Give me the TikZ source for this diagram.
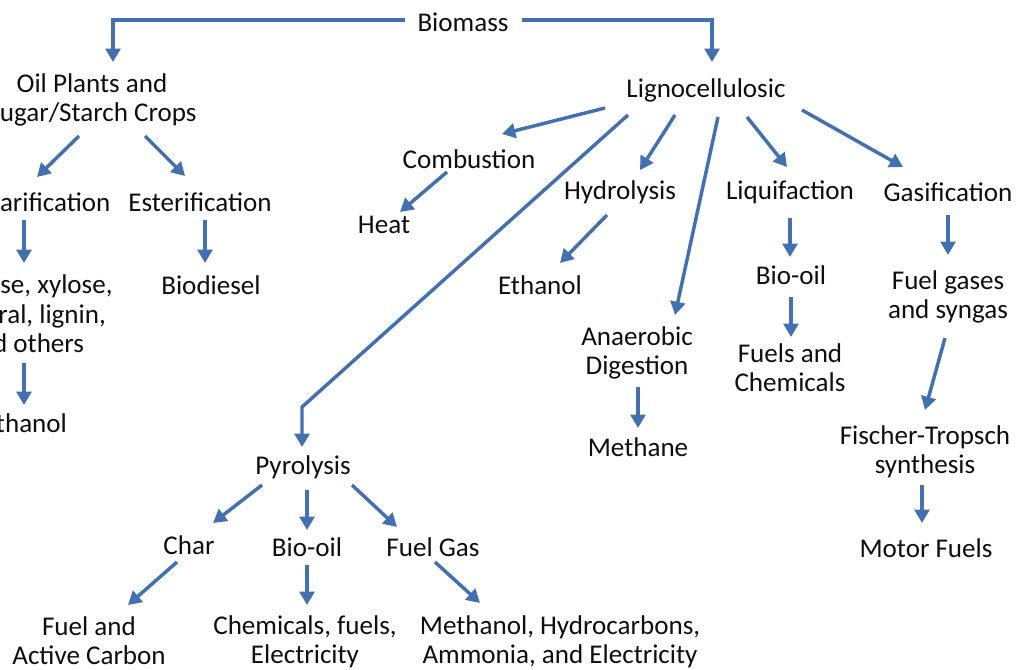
\documentclass[tikz,border=0pt]{standalone}
\usepackage{fontspec}
\setmainfont{Carlito}
\usetikzlibrary{arrows.meta}
\definecolor{arrowblue}{RGB}{66,112,176}
\definecolor{txt}{RGB}{15,15,15}
\begin{document}
\begin{tikzpicture}[x=0.75pt,y=-0.75pt,
  lbl/.style={font=\fontsize{20.3}{22}\selectfont, text=txt, align=center, inner sep=0pt},
  arr/.style={draw=arrowblue, line width=2.6pt, -{Triangle[length=10pt,width=11pt]}}]
\useasboundingbox (0,0) rectangle (1026,669);
\fill[white] (0,0) rectangle (1026,669);
\clip (0,0) rectangle (1026,669);

\node[lbl] (bio) at (463,22) {Biomass};
\node[lbl] (oil) at (92,100) {Oil Plants and\\Sugar/Starch Crops};
\node[lbl] (sacc) at (24,202) {Saccharification};
\node[lbl] (ester) at (200,202) {Esterification};
\node[lbl] (gluc) at (25,314) {Glucose, xylose,\\furfural, lignin,\\and others};
\node[lbl] (biod) at (211,285) {Biodiesel};
\node[lbl] (eth1) at (25,423) {Ethanol};
\node[lbl] (ligno) at (706,90) {Lignocellulosic};
\node[lbl] (comb) at (469,159) {Combustion};
\node[lbl] (heat) at (384,225) {Heat};
\node[lbl] (hydro) at (620,192) {Hydrolysis};
\node[lbl] (eth2) at (540,285) {Ethanol};
\node[lbl] (liquif) at (790,192) {Liquifaction};
\node[lbl] (gasif) at (948,192) {Gasification};
\node[lbl] (bo2) at (791,275) {Bio-oil};
\node[lbl] (fuelchem) at (790,368) {Fuels and\\Chemicals};
\node[lbl] (fuelgas) at (948,297) {Fuel gases\\and syngas};
\node[lbl] (anaer) at (637,353) {Anaerobic\\Digestion};
\node[lbl] (methane) at (638,447) {Methane};
\node[lbl] (fischer) at (925,452) {Fischer-Tropsch\\synthesis};
\node[lbl] (motor) at (926,548) {Motor Fuels};
\node[lbl] (pyro) at (303,467) {Pyrolysis};
\node[lbl] (char) at (189,545) {Char};
\node[lbl] (bo3) at (307,547) {Bio-oil};
\node[lbl] (fgas) at (433,547) {Fuel Gas};
\node[lbl] (fac) at (89,641) {Fuel and\\Active Carbon};
\node[lbl] (chem) at (305,642) {Chemicals, fuels,\\Electricity};
\node[lbl] (meth) at (560,642) {Methanol, Hydrocarbons,\\Ammonia, and Electricity};

\draw[arr] ([shift={(-58,-2)}]bio.center) -| ([shift={(21,-38)}]oil.center);
\draw[arr] ([shift={(59,-2)}]bio.center) -| ([shift={(6,-28)}]ligno.center);
\draw[arr] ([shift={(-13,36)}]oil.center) -- ([shift={(13,-25)}]sacc.center);
\draw[arr] ([shift={(53,36)}]oil.center) -- ([shift={(-15,-26)}]ester.center);
\draw[arr] ([shift={(0,18)}]sacc.center) -- ([shift={(-1,-51)}]gluc.center);
\draw[arr] ([shift={(5,18)}]ester.center) -- ([shift={(-6,-22)}]biod.center);
\draw[arr] ([shift={(-1,49)}]gluc.center) -- ([shift={(-1,-18)}]eth1.center);
\draw[arr] ([shift={(-101,18)}]ligno.center) -- ([shift={(33,-25)}]comb.center);
\draw[arr] ([shift={(-22,13)}]comb.center) -- ([shift={(16,-13)}]heat.center);
\draw[arr] ([shift={(-78,25)}]ligno.center) -- ([shift={(-1,-60)}]pyro.center) -- ([shift={(-1,-20)}]pyro.center);
\draw[arr] ([shift={(-31,25)}]ligno.center) -- ([shift={(20,-22)}]hydro.center);
\draw[arr] ([shift={(12,27)}]ligno.center) -- ([shift={(38,-38)}]anaer.center);
\draw[arr] ([shift={(41,27)}]ligno.center) -- ([shift={(-3,-25)}]liquif.center);
\draw[arr] ([shift={(96,20)}]ligno.center) -- ([shift={(-45,-25)}]gasif.center);
\draw[arr] ([shift={(-13,23)}]hydro.center) -- ([shift={(20,-22)}]eth2.center);
\draw[arr] ([shift={(0,26)}]liquif.center) -- ([shift={(-1,-18)}]bo2.center);
\draw[arr] ([shift={(0,22)}]bo2.center) -- ([shift={(1,-31)}]fuelchem.center);
\draw[arr] ([shift={(0,23)}]gasif.center) -- ([shift={(0,-42)}]fuelgas.center);
\draw[arr] ([shift={(-3,41)}]fuelgas.center) -- ([shift={(0,-42)}]fischer.center);
\draw[arr] ([shift={(-3,33)}]fischer.center) -- ([shift={(-4,-25)}]motor.center);
\draw[arr] ([shift={(1,34)}]anaer.center) -- ([shift={(0,-19)}]methane.center);
\draw[arr] ([shift={(-41,18)}]pyro.center) -- ([shift={(24,-22)}]char.center);
\draw[arr] ([shift={(4,23)}]pyro.center) -- ([shift={(0,-17)}]bo3.center);
\draw[arr] ([shift={(49,18)}]pyro.center) -- ([shift={(-36,-20)}]fgas.center);
\draw[arr] ([shift={(-12,17)}]char.center) -- ([shift={(39,-36)}]fac.center);
\draw[arr] ([shift={(0,18)}]bo3.center) -- ([shift={(2,-37)}]chem.center);
\draw[arr] ([shift={(2,15)}]fgas.center) -- ([shift={(-80,-39)}]meth.center);
\end{tikzpicture}
\end{document}
